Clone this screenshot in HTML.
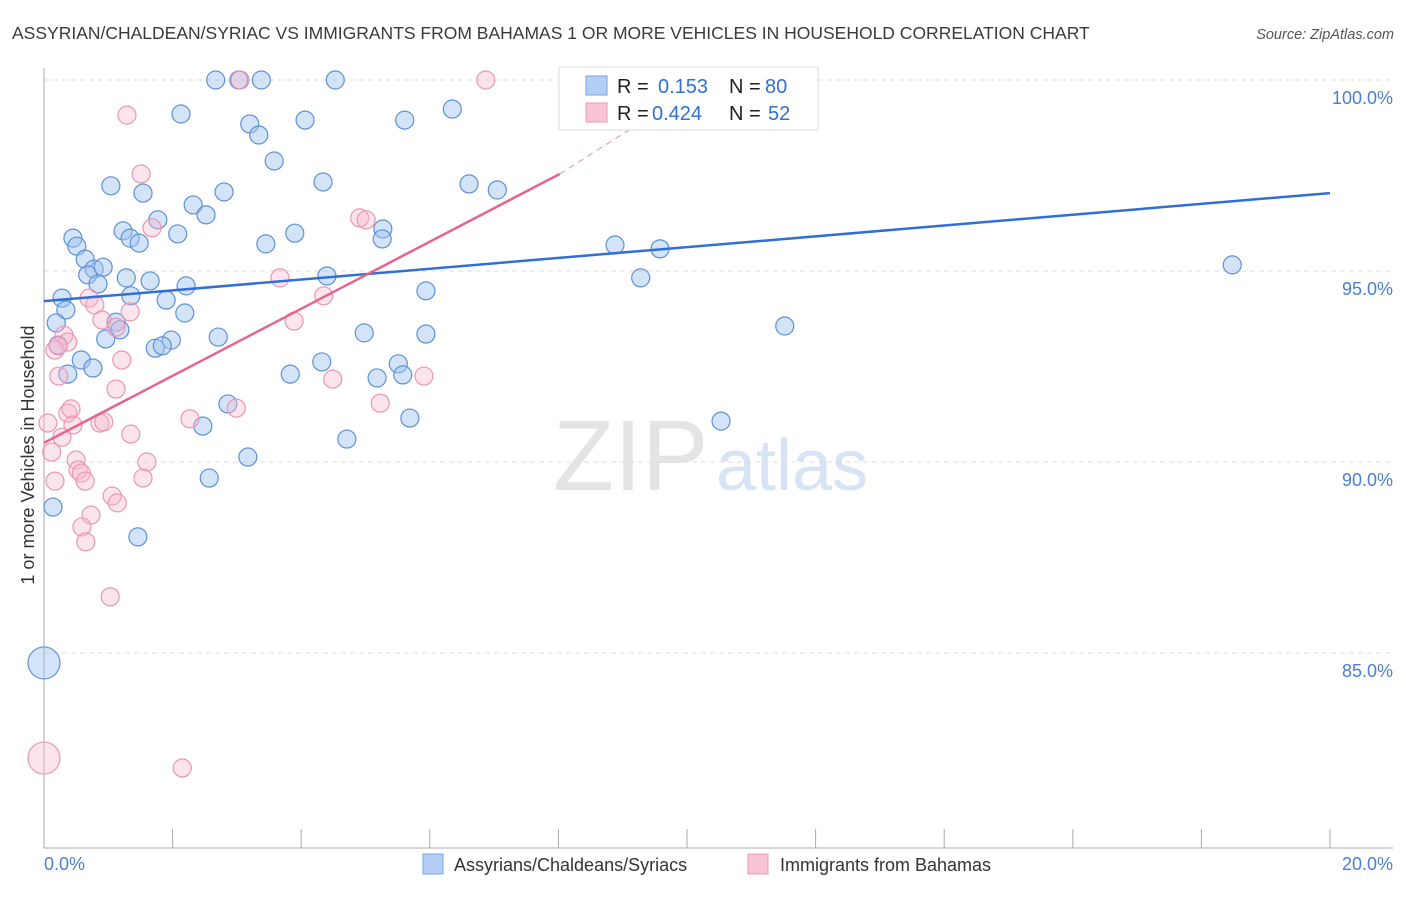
<!DOCTYPE html>
<html><head><meta charset="utf-8"><style>
body{margin:0;background:#fff;font-family:"Liberation Sans",sans-serif;}
svg text{font-family:"Liberation Sans",sans-serif;}
</style></head><body>
<svg id="chart" width="1406" height="892" xmlns="http://www.w3.org/2000/svg">
<text x="12" y="39" font-size="17.5" fill="#3a3a3a">ASSYRIAN/CHALDEAN/SYRIAC VS IMMIGRANTS FROM BAHAMAS 1 OR MORE VEHICLES IN HOUSEHOLD CORRELATION CHART</text>
<text x="1394" y="39" font-size="14.5" fill="#555" font-style="italic" text-anchor="end">Source: ZipAtlas.com</text>
<g>
<text x="553" y="490" font-size="100" fill="#e4e4e4" font-family="Liberation Serif,serif">ZIP</text>
<text x="716" y="490" font-size="72" fill="#d6e4f6">atlas</text>
</g>
<g id="grid"></g>
<g id="axes"></g>
<g id="pts"></g>
<g id="trend"></g>
<g>
<rect x="559" y="67" width="259" height="63" fill="#fff" stroke="#ddd"/>
<rect x="586" y="76" width="21" height="19" fill="#b4cef5" stroke="#7aa3e0"/>
<rect x="586" y="103" width="21" height="19" fill="#f8c4d4" stroke="#eb9ab4"/>
<text x="617" y="93" font-size="20" fill="#222">R = </text><text x="658" y="93" font-size="20" fill="#2f6fd6">0.153</text>
<text x="729" y="93" font-size="20" fill="#222">N = </text><text x="765" y="93" font-size="20" fill="#2f6fd6">80</text>
<text x="617" y="120" font-size="20" fill="#222">R = </text><text x="652" y="120" font-size="20" fill="#2f6fd6">0.424</text>
<text x="729" y="120" font-size="20" fill="#222">N = </text><text x="768" y="120" font-size="20" fill="#2f6fd6">52</text>
</g>
<text transform="translate(34,455) rotate(-90)" font-size="18" fill="#333" text-anchor="middle">1 or more Vehicles in Household</text>
<text x="44" y="870" font-size="18" fill="#4a7fd4">0.0%</text>
<text x="1393" y="870" font-size="18" fill="#4a7fd4" text-anchor="end">20.0%</text>
<g>
<rect x="423" y="854" width="20" height="20" fill="#b4cef5" stroke="#7aa3e0"/>
<text x="454" y="871" font-size="18" fill="#333">Assyrians/Chaldeans/Syriacs</text>
<rect x="748" y="854" width="20" height="20" fill="#f8c4d4" stroke="#eb9ab4"/>
<text x="780" y="871" font-size="18" fill="#333">Immigrants from Bahamas</text>
</g>
</svg>
<script>
const yTicks=[100,95,90,85];
const yTickLabels=["100.0%","95.0%","90.0%","85.0%"];
const xTicks=[0,2,4,6,8,10,12,14,16,18,20];
const blueX=[2.67,3.03,3.38,4.53,2.13,3.20,3.34,4.06,5.61,6.35,3.58,4.34,1.04,1.54,2.80,6.61,7.05,2.32,2.52,1.77,2.08,1.23,1.34,1.48,0.45,0.51,3.45,3.90,5.27,5.26,8.88,9.58,0.64,0.78,0.68,0.92,1.28,1.65,0.84,2.21,4.40,9.28,18.48,0.28,1.35,1.90,0.34,5.94,0.19,1.12,1.18,2.19,11.52,0.96,1.98,2.71,4.98,5.94,0.22,1.73,1.84,0.58,0.76,0.37,4.32,3.83,5.51,5.18,5.58,2.86,2.47,5.69,4.71,10.53,3.17,2.57,0.14,1.46,0.00,11.01];
const blueY=[100,100,100,100,99.11,98.85,98.56,98.95,98.95,99.24,97.88,97.33,97.23,97.04,97.07,97.28,97.12,96.73,96.47,96.34,95.97,96.05,95.86,95.73,95.86,95.65,95.71,95.99,96.10,95.84,95.68,95.58,95.31,95.05,94.90,95.10,94.82,94.74,94.66,94.61,94.87,94.82,95.16,94.29,94.35,94.24,93.98,94.48,93.64,93.66,93.46,93.90,93.56,93.22,93.19,93.27,93.38,93.35,93.06,92.98,93.04,92.67,92.46,92.30,92.62,92.30,92.57,92.20,92.28,91.52,90.94,91.15,90.60,91.07,90.13,89.58,88.82,88.04,84.74,99.01];
const blueBig=[78];
const pinkX=[3.05,6.87,1.29,1.51,1.68,4.91,5.01,3.67,4.35,0.70,0.79,1.34,0.90,1.12,0.31,0.37,0.17,0.22,1.21,0.23,4.49,5.91,1.12,5.23,2.99,0.37,0.42,0.06,0.45,0.87,0.93,2.27,1.35,0.28,3.89,0.12,1.60,0.50,0.53,0.58,1.54,0.17,0.64,1.06,1.14,0.73,0.59,0.65,1.03,0.00,2.15];
const pinkY=[100,100,99.08,97.54,96.13,96.39,96.34,94.82,94.35,94.29,94.11,93.93,93.72,93.53,93.32,93.14,92.93,93.04,92.67,92.25,92.17,92.25,91.91,91.54,91.41,91.28,91.39,91.02,90.97,91.02,91.05,91.13,90.73,90.65,93.69,90.26,90.00,90.05,89.79,89.71,89.58,89.50,89.50,89.11,88.93,88.61,88.30,87.91,86.47,82.25,81.99];
const pinkBig=[49];
const blueTrend=[0,94.21,20,97.04];
const pinkTrend=[0,90.5,8.02,97.54,10.2,99.87];
const NS="http://www.w3.org/2000/svg";
const X=v=>44+v*64.3, Y=v=>80+(100-v)*38.2;
function mk(t,a,p){const e=document.createElementNS(NS,t);for(const k in a)e.setAttribute(k,a[k]);p.appendChild(e);return e;}
const grid=document.getElementById('grid'),axes=document.getElementById('axes'),pts=document.getElementById('pts'),tr=document.getElementById('trend');
yTicks.forEach((v,i)=>{
 const l=mk('line',{x1:44,x2:1393,y1:Y(v),y2:Y(v),stroke:'#ddd','stroke-dasharray':'5,4'},grid);
 
 
 const t=mk('text',{x:1393,y:Y(v)+24,'font-size':18,fill:'#4a7fd4','text-anchor':'end'},grid);
 t.textContent=yTickLabels[i];
 
 
});
const ya=mk('line',{x1:44,x2:44,y1:68,y2:848,stroke:'#aaa'},axes);


const xa=mk('line',{x1:44,x2:1393,y1:848,y2:848,stroke:'#aaa'},axes);


xTicks.forEach(v=>{
 const t=mk('line',{x1:X(v),x2:X(v),y1:829,y2:848,stroke:'#aaa'},axes);
 
 
});
function draw(xs,ys,big,fill,stroke,name){
 xs.forEach((x,i)=>{
  const c=mk('circle',{cx:X(x),cy:Y(ys[i]),r:big.includes(i)?16:9,fill:fill,stroke:stroke,'stroke-width':1.2},pts);
  
  
 });
}
draw(blueX,blueY,blueBig,'rgba(160,196,240,0.45)','#5d90d8','assyrian-point');
draw(pinkX,pinkY,pinkBig,'rgba(248,185,205,0.38)','#e996b1','bahamas-point');
const bl=mk('line',{x1:X(blueTrend[0]),y1:Y(blueTrend[1]),x2:X(blueTrend[2]),y2:Y(blueTrend[3]),stroke:'#2f6fd6','stroke-width':2.5},tr);


const pl=mk('line',{x1:X(pinkTrend[0]),y1:Y(pinkTrend[1]),x2:X(pinkTrend[2]),y2:Y(pinkTrend[3]),stroke:'#e5658f','stroke-width':2.5},tr);


const pd=mk('line',{x1:X(pinkTrend[2]),y1:Y(pinkTrend[3]),x2:X(pinkTrend[4]),y2:Y(pinkTrend[5]),stroke:'#e5a0b8','stroke-width':1.2,'stroke-dasharray':'6,5'},tr);


</script>
</body></html>
